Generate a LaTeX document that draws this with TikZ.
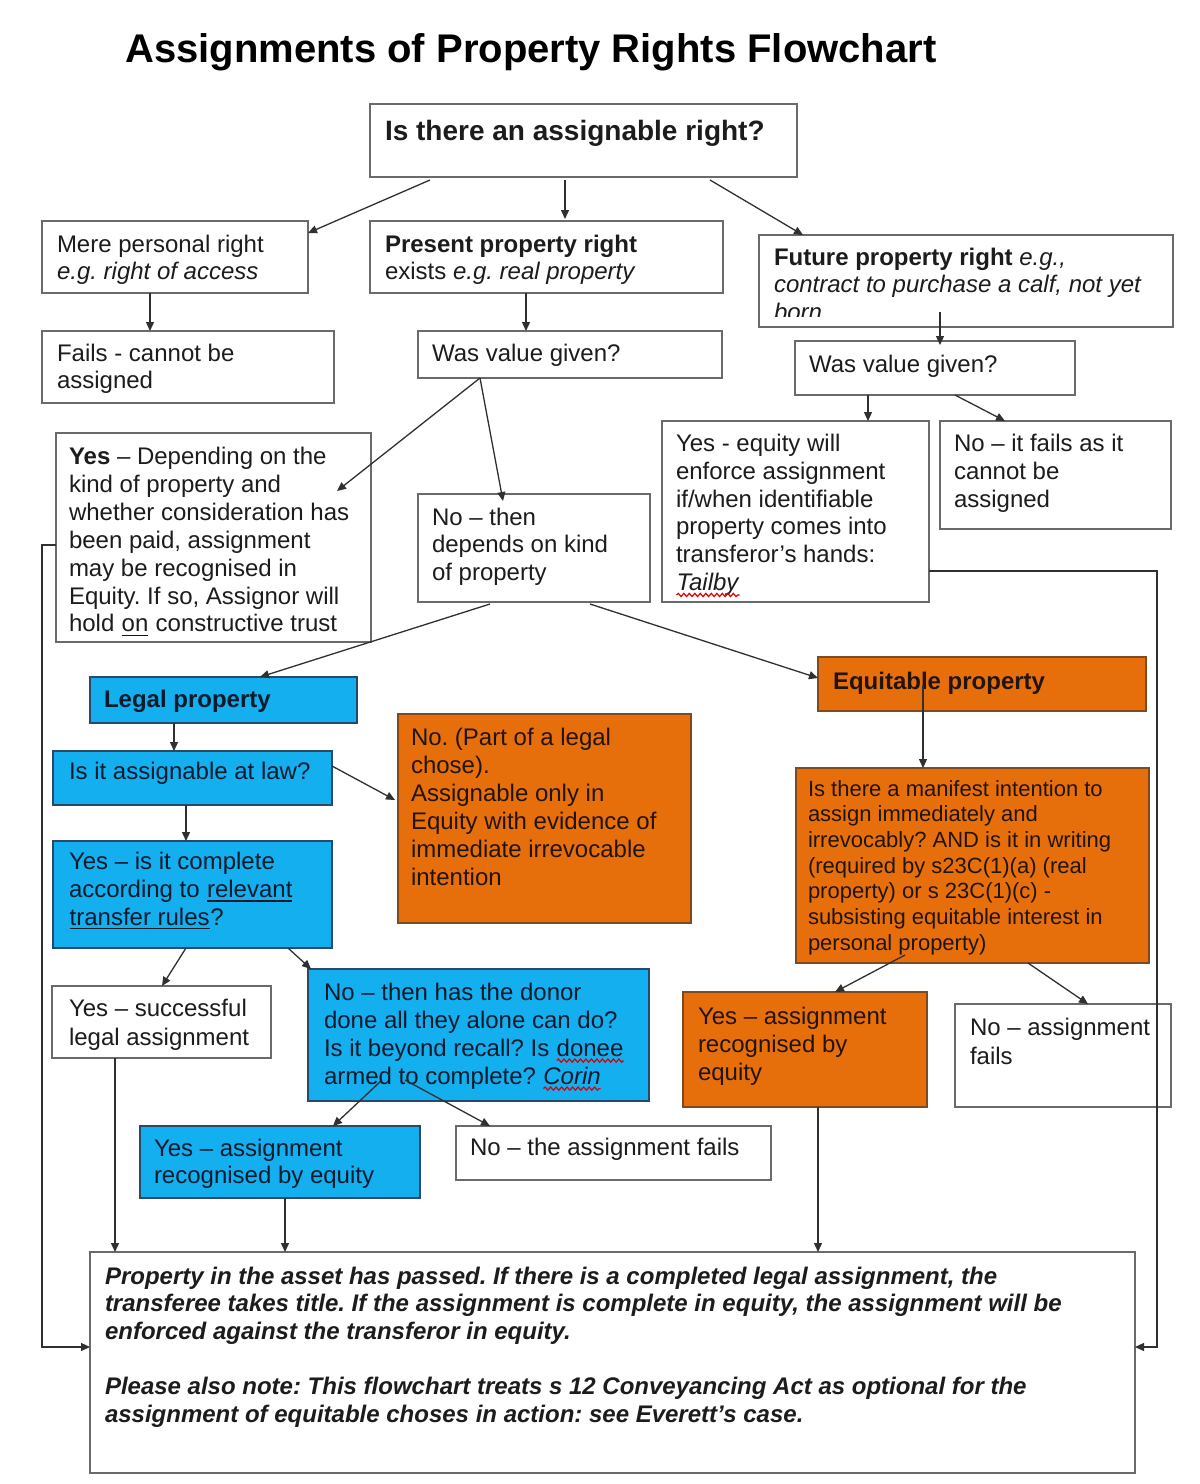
\documentclass[tikz,border=0pt]{standalone}
\usepackage{fontspec}
\setmainfont{Liberation Sans}
\usetikzlibrary{arrows.meta,calc,decorations.pathmorphing}
\frenchspacing
\definecolor{lblue}{HTML}{14AFEF}
\definecolor{orng}{HTML}{E66F0C}
\definecolor{wborder}{HTML}{6A6A6A}
\definecolor{bborder}{HTML}{2A4868}
\definecolor{oborder}{HTML}{7E4A1E}
\definecolor{txtc}{HTML}{1C1C1C}
\definecolor{btxt}{HTML}{0C1A2C}
\definecolor{otxt}{HTML}{22140A}
\definecolor{linec}{HTML}{303030}
\newcommand\wavy[1]{\tikz[baseline=(w.base)]{\node[inner sep=0pt,outer sep=0pt,anchor=base](w){#1};\draw[red!85!black,line width=1.2pt,decorate,decoration={snake,amplitude=1.6pt,segment length=5.5pt}] ([yshift=-4.5pt]w.base west)--([yshift=-4.5pt]w.base east);}}
\newcommand\ulin[2][txtc]{\tikz[baseline=(w.base)]{\node[inner sep=0pt,outer sep=0pt,anchor=base](w){#2};\draw[#1,line width=1.3pt] ([yshift=-3.5pt]w.base west)--([yshift=-3.5pt]w.base east);}}
\newcommand\bx[6]{\node[#6, minimum width={#4-#2}, minimum height={#5-#3}, anchor=north west, inner sep=0pt, outer sep=0pt] (#1) at (#2,#3) {};}
\tikzset{
 wbox/.style={draw=wborder, fill=white, line width=1.6pt},
 bbox/.style={draw=bborder, fill=lblue, line width=1.6pt},
 obox/.style={draw=oborder, fill=orng, line width=1.6pt},
 txt/.style={anchor=north west, inner sep=0pt, outer sep=0pt, align=left, font=\fontsize{24}{27.6}\selectfont, text=txtc},
 btx/.style={txt, text=btxt},
 otx/.style={txt, text=otxt},
 arr/.style={draw=linec, line width=1.3pt, -{Triangle[length=9pt,width=8pt]}},
}
\begin{document}
\begin{tikzpicture}[x=1pt,y=-1pt]
\useasboundingbox (0,0) rectangle (1200,1484);
\fill[white] (0,0) rectangle (1200,1484);

% title
\node[anchor=base west, inner sep=0pt, font=\fontsize{40}{48}\selectfont\bfseries, text=black] (title) at (125,62) {Assignments of Property Rights Flowchart};

% boxes
\bx{top}{370}{104}{797}{177}{wbox}
\bx{mere}{42}{221}{308}{293}{wbox}
\bx{pres}{370}{221}{723}{293}{wbox}
\bx{fut}{759}{235}{1173}{327}{wbox}
\bx{fails}{42}{331}{334}{403}{wbox}
\bx{wvga}{418}{331}{722}{378}{wbox}
\bx{wvgb}{795}{341}{1075}{395}{wbox}
\bx{yesdep}{56}{433}{371}{642}{wbox}
\bx{nothen}{418}{494}{650}{602}{wbox}
\bx{yeseq}{662}{421}{929}{602}{wbox}
\bx{nofail}{940}{421}{1171}{529}{wbox}
\bx{legal}{90}{677}{357}{723}{bbox}
\bx{equit}{818}{657}{1146}{711}{obox}
\bx{assign}{53}{751}{332}{805}{bbox}
\bx{nochose}{398}{714}{691}{923}{obox}
\bx{manif}{796}{768}{1149}{963}{obox}
\bx{complete}{53}{841}{332}{948}{bbox}
\bx{yessucc}{52}{986}{271}{1058}{wbox}
\bx{donor}{308}{969}{649}{1101}{bbox}
\bx{yesorg}{683}{992}{927}{1107}{obox}
\bx{noassign}{955}{1004}{1171}{1107}{wbox}
\bx{yesblue}{140}{1126}{420}{1198}{bbox}
\bx{nofailb}{456}{1126}{771}{1180}{wbox}
\bx{bottom}{90}{1252}{1135}{1473}{wbox}

% texts
\node[txt, font=\fontsize{28}{32}\selectfont] (top-t) at ($(top.north west)+(15,14)$) {\strut\textbf{Is there an assignable right?}};
\node[txt] (mere-t) at ($(mere.north west)+(15,12)$) {\strut Mere personal right\\\textit{e.g. right of access}};
\node[txt] (pres-t) at ($(pres.north west)+(15,12)$) {\strut\textbf{Present property right}\\exists \textit{e.g. real property}};
\begin{scope}
\clip ($(fut.north west)+(1,1)$) rectangle ($(fut.south east)+(-1,-11)$);
\node[txt] (fut-t) at ($(fut.north west)+(15,11)$) {\strut\textbf{Future property right} \textit{e.g.,}\\\textit{contract to purchase a calf, not yet}\\\textit{born}};
\end{scope}
\node[txt] (fails-t) at ($(fails.north west)+(15,11)$) {\strut Fails - cannot be\\assigned};
\node[txt] (wvga-t) at ($(wvga.north west)+(14,11)$) {\strut Was value given?};
\node[txt] (wvgb-t) at ($(wvgb.north west)+(14,12)$) {\strut Was value given?};
\node[txt, font=\fontsize{24}{27.9}\selectfont] (yesdep-t) at ($(yesdep.north west)+(13,12)$) {\strut\textbf{Yes} – Depending on the\\kind of property and\\whether consideration has\\been paid, assignment\\may be recognised in\\Equity. If so, Assignor will\\hold \ulin[blue!70!black]{on} constructive trust};
\node[txt] (nothen-t) at ($(nothen.north west)+(14,12)$) {\strut No – then\\depends on kind\\of property};
\node[txt, font=\fontsize{24}{27.8}\selectfont] (yeseq-t) at ($(yeseq.north west)+(14,11)$) {\strut Yes - equity will\\enforce assignment\\if/when identifiable\\property comes into\\transferor’s hands:\\\wavy{\textit{Tailby}}};
\node[txt, font=\fontsize{24}{28}\selectfont] (nofail-t) at ($(nofail.north west)+(14,11)$) {\strut No – it fails as it\\cannot be\\assigned};
\node[btx] (legal-t) at ($(legal.north west)+(14,11)$) {\strut\textbf{Legal property}};
\node[otx] (equit-t) at ($(equit.north west)+(15,13)$) {\strut\textbf{Equitable property}};
\node[btx] (assign-t) at ($(assign.north west)+(16,9.5)$) {\strut Is it assignable at law?};
\node[otx, font=\fontsize{24}{28}\selectfont] (nochose-t) at ($(nochose.north west)+(13,12)$) {\strut No. (Part of a legal\\chose).\\Assignable only in\\Equity with evidence of\\immediate irrevocable\\intention};
\node[otx, font=\fontsize{22}{25.7}\selectfont] (manif-t) at ($(manif.north west)+(12,10)$) {\strut Is there a manifest intention to\\assign immediately and\\irrevocably? AND is it in writing\\(required by s23C(1)(a) (real\\property) or s 23C(1)(c) -\\subsisting equitable interest in\\personal property)};
\node[btx] (complete-t) at ($(complete.north west)+(16,9.5)$) {\strut Yes – is it complete\\according to \ulin[btxt]{relevant}\\\ulin[btxt]{transfer rules}?};
\node[txt, font=\fontsize{24}{29}\selectfont] (yessucc-t) at ($(yessucc.north west)+(17,10.5)$) {\strut Yes – successful\\legal assignment};
\node[btx, font=\fontsize{24}{28}\selectfont] (donor-t) at ($(donor.north west)+(16,11.5)$) {\strut No – then has the donor\\done all they alone can do?\\Is it beyond recall? Is \wavy{donee}\\armed to complete? \wavy{\textit{Corin}}};
\node[otx, font=\fontsize{24}{28}\selectfont] (yesorg-t) at ($(yesorg.north west)+(15,12.5)$) {\strut Yes – assignment\\recognised by\\equity};
\node[txt, font=\fontsize{24}{29}\selectfont] (noassign-t) at ($(noassign.north west)+(15,11.5)$) {\strut No – assignment\\fails};
\node[btx, font=\fontsize{24}{27}\selectfont] (yesblue-t) at ($(yesblue.north west)+(14,11.5)$) {\strut Yes – assignment\\recognised by equity};
\node[txt] (nofailb-t) at ($(nofailb.north west)+(14,10.5)$) {\strut No – the assignment fails};
\node[txt, font=\fontsize{24}{27.6}\selectfont\bfseries\itshape] (bottom-t) at ($(bottom.north west)+(15,13)$) {\strut Property in the asset has passed. If there is a completed legal assignment, the\\transferee takes title. If the assignment is complete in equity, the assignment will be\\enforced against the transferor in equity.\\[27.6pt]Please also note: This flowchart treats s 12 Conveyancing Act as optional for the\\assignment of equitable choses in action: see Everett’s case.};

% connectors
\draw[arr] ($(top.south west)+(60,3)$) -- ($(mere.north east)+(0,12)$);
\draw[arr] ($(top.south west)+(195,3)$) -- ($(pres.north west)+(195,-2)$);
\draw[arr] ($(top.south west)+(340,3)$) -- ($(fut.north west)+(44,0)$);
\draw[arr] ($(mere.south west)+(108,0)$) -- ($(fails.north west)+(108,0)$);
\draw[arr] ($(pres.south west)+(156,0)$) -- ($(wvga.north west)+(108,0)$);
\draw[arr] ($(fut.north west)+(181,77)$) -- ($(wvgb.north west)+(145,4)$);
\draw[arr] ($(wvgb.south west)+(73,0)$) -- ($(yeseq.north west)+(206,0)$);
\draw[arr] ($(wvgb.south west)+(160,0)$) -- ($(nofail.north west)+(65,0)$);
\draw[arr] ($(wvga.south west)+(62,0)$) -- ($(yesdep.north east)+(-34,58)$);
\draw[arr] ($(wvga.south west)+(62,0)$) -- ($(nothen.north west)+(85,7)$);
\draw[arr] ($(nothen.south west)+(72,2)$) -- ($(legal.north east)+(-97,0)$);
\draw[arr] ($(nothen.south west)+(172,2)$) -- ($(equit.north west)+(0,21)$);
\draw[arr] ($(legal.south west)+(84,0)$) -- ($(assign.north west)+(121,0)$);
\draw[arr] ($(assign.north east)+(0,15)$) -- ($(nochose.north west)+(-3,86)$);
\draw[arr] ($(assign.south west)+(133,0)$) -- ($(complete.north west)+(133,0)$);
\draw[arr] ($(equit.north west)+(105,28)$) -- ($(manif.north west)+(127,0)$);
\draw[arr] ($(complete.south west)+(133,0)$) -- ($(yessucc.north west)+(110,0)$);
\draw[arr] ($(complete.south west)+(235,0)$) -- ($(donor.north west)+(3,0)$);
\draw[arr] ($(donor.north west)+(74,111)$) -- ($(yesblue.north west)+(193,0)$);
\draw[arr] ($(donor.north west)+(97,111)$) -- ($(nofailb.north west)+(34,0)$);
\draw[arr] ($(manif.north west)+(109,187)$) -- ($(yesorg.north west)+(152,0)$);
\draw[arr] ($(manif.south west)+(232,0)$) -- ($(noassign.north west)+(133,0)$);
\draw[arr] ($(yessucc.south west)+(63,0)$) -- ($(bottom.north west)+(25,0)$);
\draw[arr] ($(yesblue.south west)+(145,0)$) -- ($(bottom.north west)+(195,0)$);
\draw[arr] ($(yesorg.south west)+(135,0)$) -- ($(bottom.north west)+(728,0)$);
\draw[arr] ($(yesdep.north west)+(0,112)$) -- ++(-14,0) |- ($(bottom.north west)+(0,95)$);
\draw[arr] ($(yeseq.north east)+(0,150)$) -- ++(228,0) |- ($(bottom.north east)+(0,95)$);
\end{tikzpicture}
\end{document}
